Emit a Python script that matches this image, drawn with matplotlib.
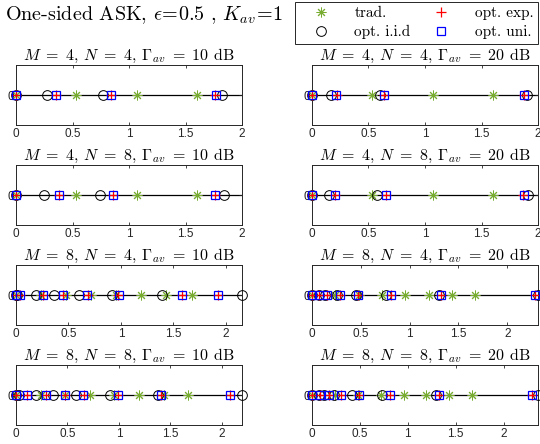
import numpy as np
import matplotlib
matplotlib.use("Agg")
from matplotlib import pyplot as plt
from matplotlib.lines import Line2D

plt.rcParams['mathtext.fontset'] = 'cm'
plt.rcParams['font.family'] = ['cmr10', 'DejaVu Serif']
plt.rcParams['axes.unicode_minus'] = False

# panel order : row by row, (M, N, Gamma_av)
M_vals = [4, 4, 4, 4, 8, 8, 8, 8]
N_vals = [4, 4, 8, 8, 4, 4, 8, 8]
G_vals = [10, 20, 10, 20, 10, 20, 10, 20]

# points des constellations
trad = [
    [0, 0.535, 1.069, 1.604],
    [0, 0.535, 1.069, 1.604],
    [0, 0.535, 1.069, 1.604],
    [0, 0.535, 1.069, 1.604],
    [0, 0.239, 0.478, 0.717, 0.956, 1.195, 1.434, 1.673],
    [0, 0.239, 0.478, 0.717, 0.956, 1.195, 1.434, 1.673],
    [0, 0.239, 0.478, 0.717, 0.956, 1.195, 1.434, 1.673],
    [0, 0.239, 0.478, 0.717, 0.956, 1.195, 1.434, 1.673],
]
iid = [
    [0, 0.272, 0.773, 1.82],
    [0, 0.172, 0.605, 1.90],
    [0, 0.251, 0.743, 1.841],
    [0, 0.148, 0.578, 1.911],
    [0, 0.01, 0.191, 0.366, 0.601, 0.913, 1.396, 2.154],
    [0, 0.069, 0.137, 0.257, 0.446, 0.755, 1.304, 2.315],
    [0, 0.03, 0.195, 0.364, 0.585, 0.91, 1.382, 2.195],
    [0, 0.07, 0.122, 0.227, 0.419, 0.734, 1.294, 2.36],
]
exp_ = [
    [0, 0.356, 0.84, 1.765],
    [0, 0.218, 0.64, 1.873],
    [0, 0.383, 0.862, 1.76],
    [0, 0.203, 0.654, 1.87],
    [0, 0.038, 0.253, 0.445, 0.682, 0.975, 1.58, 1.93],
    [0, 0.073, 0.153, 0.29, 0.475, 0.805, 1.32, 2.28],
    [0, 0.102, 0.29, 0.478, 0.66, 0.99, 1.405, 2.074],
    [0, 0.085, 0.18, 0.305, 0.495, 0.815, 1.33, 2.30],
]
uni = [
    [0, 0.354, 0.838, 1.767],
    [0, 0.216, 0.637, 1.875],
    [0, 0.381, 0.861, 1.761],
    [0, 0.201, 0.652, 1.872],
    [0, 0.04, 0.254, 0.445, 0.681, 0.977, 1.581, 1.93],
    [0, 0.075, 0.154, 0.291, 0.473, 0.806, 1.32, 2.28],
    [0, 0.104, 0.292, 0.478, 0.65, 0.992, 1.405, 2.074],
    [0, 0.087, 0.181, 0.307, 0.496, 0.815, 1.329, 2.30],
]
xticks = [0, 0.5, 1, 1.5, 2]
xtick_labels = ['0', '0.5', '1', '1.5', '2']

GREEN = '#77AC30'
STAR = (8, 2, 0)
W, H = 540, 444

# styles des marqueurs (courbe + legende)
sty_trad = dict(ls='none', marker=STAR, ms=7, mec=GREEN, mew=0.7)
sty_iid = dict(ls='none', marker='o', ms=7, mfc='none', mec='k', mew=0.7)
sty_exp = dict(ls='none', marker='+', ms=6.5, mec='r', mew=0.9)
sty_uni = dict(ls='none', marker='s', ms=6, mfc='none', mec='b', mew=0.9)

fig = plt.figure(figsize=(W / 100, H / 100), dpi=100)

lefts = [16, 312]
tops = [65, 165, 265, 365]
AX_W, AX_H = 226, 60

for k in range(8):
    row, col = k // 2, k % 2
    ax = fig.add_axes([lefts[col] / W, 1 - (tops[row] + AX_H) / H, AX_W / W, AX_H / H])

    ax.axhline(0, color='k', lw=0.9, zorder=1)
    ax.plot(trad[k], np.zeros(len(trad[k])), zorder=3, clip_on=False, **sty_trad)
    ax.plot(iid[k], np.zeros(len(iid[k])), zorder=3, clip_on=False, **sty_iid)
    ax.plot(exp_[k], np.zeros(len(exp_[k])), zorder=4, clip_on=False, **sty_exp)
    ax.plot(uni[k], np.zeros(len(uni[k])), zorder=4, clip_on=False, **sty_uni)

    if row < 2:
        xmax = 2
    else:
        xmax = max(max(iid[k]), max(uni[k]), max(exp_[k]))
    ax.set_xlim(0, xmax)
    ax.set_ylim(-1, 1)
    ax.set_xticks(xticks)
    ax.set_xticklabels(xtick_labels, family='Liberation Sans', fontsize=8.5)
    ax.set_yticks([0])
    ax.set_yticklabels(['0'], family='Liberation Sans', fontsize=8.5)
    ax.tick_params(direction='in', top=True, right=True, length=2.5,
                   width=0.6, pad=2.5, colors='#262626')
    ax.tick_params(axis='y', pad=1.5)
    for sp in ax.spines.values():
        sp.set_linewidth(0.7)
        sp.set_color('#262626')

    ax.set_title(r'$M\ =\ %d$, $N\ =\ %d$, $\Gamma_{av}\ =\ %d$ dB' % (M_vals[k], N_vals[k], G_vals[k]),
                 fontsize=11.5, pad=3.5)

fig.text(5 / W, 1 - 15 / H, r'One-sided ASK, $\epsilon\!=\!0.5$ , $K_{av}\!=\!1$',
         fontsize=14.5, va='center', ha='left')

handles = [Line2D([], [], **sty_trad), Line2D([], [], **sty_iid),
           Line2D([], [], **sty_exp), Line2D([], [], **sty_uni)]
labels = ['trad.', 'opt. i.i.d', 'opt. exp.', 'opt. uni.']
leg = fig.legend(handles, labels, ncol=2, loc='upper right',
                 bbox_to_anchor=(538 / W, 1 - 2 / H), fontsize=11,
                 frameon=True, fancybox=False, framealpha=1, edgecolor='#262626',
                 borderpad=0.3, labelspacing=0.3, handletextpad=0.8,
                 columnspacing=0.6, handlelength=2.8, borderaxespad=0)
leg.get_frame().set_linewidth(0.7)

fig.savefig('out.png', dpi=100)
